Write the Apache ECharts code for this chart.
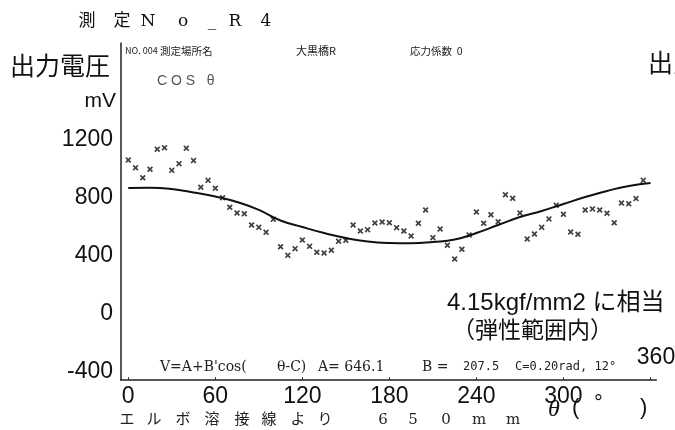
<!DOCTYPE html>
<html>
<head>
<meta charset="utf-8">
<script src="https://cdn.jsdelivr.net/npm/echarts@6/dist/echarts.min.js"></script>
<style>
html,body{margin:0;padding:0;background:#fff;}
#chart{width:675px;height:430px;}
</style>
</head>
<body>
<div id="chart"></div>
<script>
// measured angle (deg)
const thetaDeg = [0,5,10,15,20,25,30,35,40,45,50,55,60,65,70,75,80,85,90,95,
  100,105,110,115,120,125,130,135,140,145,150,155,160,165,170,175,180,185,190,195,
  200,205,210,215,220,225,230,235,240,245,250,255,260,265,270,275,280,285,290,295,
  300,305,310,315,320,325,330,335,340,345,350,355];
// measured output voltage (mV)
const measured = [1018,965,896,954,1092,1103,947,993,1099,1014,
  830,878,823,758,692,653,648,570,554,520,
  609,420,361,407,467,423,382,377,396,458,
  465,570,529,538,584,591,586,552,529,494,
  582,674,483,543,430,336,403,501,660,582,
  641,593,779,754,653,474,508,554,612,706,
  644,522,506,674,681,674,651,586,722,717,
  752,878];
// fitted curve
const curveTheta = [0,15,30,45,60,75,90,105,120,135,150,165,180,195,210,225,240,255,270,285,300,315,330,345,360];
const curveValues = [825,827,818,794,767,729,674,601,556,515,480,456,446,444,453,470,515,570,625,667,715,763,805,839,860];
// tick labels
const xTicks = [0,60,120,180,240,300,360];
const yTicks = [-400,0,400,800,1200];

const titleChars = ['測','定','N','o','_','R','4'];
const titleX = [87,122,148,183,212,235,266];
const bottomChars = ['エ','ル','ボ','溶','接','線','よ','り','6','5','0','m','m'];
const bottomX = [127,154,183,212,242,269,298,325,383,413,446,479,513];

const sans = '"Liberation Sans",Arial,sans-serif';
const jp = '"Noto Sans CJK JP","Noto Sans",sans-serif';
const serif = '"DejaVu Serif","Liberation Serif","Noto Sans CJK JP",serif';

function txt(x, y, text, font, align, color) {
  return {type:'text', x:x, y:y, silent:true,
    style:{text:text, font:font, fill:color||'#111', textAlign:align||'left', align:align||'left',
      textVerticalAlign:'middle', verticalAlign:'middle'}};
}

const graphics = [];
titleChars.forEach((c,i)=>graphics.push(txt(titleX[i], 22, c, '17px ' + serif, 'center')));
bottomChars.forEach((c,i)=>graphics.push(txt(bottomX[i], 420, c, '15px ' + serif, 'center', '#222')));
graphics.push(txt(10, 65, '出力電圧', '25px ' + jp, 'left'));
graphics.push(txt(116, 101, 'mV', '21px ' + sans, 'right'));
graphics.push(txt(125, 51, 'NO. 004', '9px ' + jp, 'left', '#222'));
graphics.push(txt(160, 51, '測定場所名', '10.5px ' + jp, 'left', '#222'));
graphics.push(txt(296, 51, '大黒橋R', '11px ' + jp, 'left', '#222'));
graphics.push(txt(410, 51, '応力係数  0', '10.5px ' + jp, 'left', '#222'));
graphics.push(txt(157, 81, 'C O S   θ', '14px ' + sans, 'left', '#555'));
graphics.push(txt(160, 367, "V=A+B'cos(", '14px ' + serif, 'left', '#222'));
graphics.push(txt(277, 367, 'θ-C)', '14px ' + serif, 'left', '#222'));
graphics.push(txt(318, 367, 'A= 646.1', '14px ' + serif, 'left', '#222'));
graphics.push(txt(422, 367, 'B =', '14px ' + serif, 'left', '#222'));
graphics.push(txt(463, 367, '207.5', '12px "DejaVu Sans Mono",monospace', 'left', '#222'));
graphics.push(txt(515, 367, 'C=0.20rad, 12°', '12px "DejaVu Sans Mono",monospace', 'left', '#222'));
graphics.push(txt(447, 303, '4.15kgf/mm2 に相当', '24px ' + sans.replace('sans-serif','"Noto Sans CJK JP",sans-serif'), 'left'));
graphics.push(txt(452, 329, '（弾性範囲内）', '23px ' + jp, 'left'));
graphics.push(txt(648, 62, '出力', '25px ' + jp, 'left'));
graphics.push(txt(548, 410, 'θ', 'italic 24px "Liberation Serif",serif', 'left'));
graphics.push(txt(572, 408, '(', '22px ' + sans, 'left'));
graphics.push(txt(594, 404, '°', '22px ' + sans, 'left'));
graphics.push(txt(640, 408, ')', '22px ' + sans, 'left'));
graphics.push(txt(656, 358, String(xTicks[xTicks.length-1]), '23px ' + sans, 'center'));

const option = {
  animation:false,
  backgroundColor:'#ffffff',
  grid:{left:121, top:43, width:535.3, height:337.2},
  xAxis:{
    type:'value', min:-5, max:364,
    axisLine:{show:true, onZero:false, lineStyle:{color:'#222', width:1.5}},
    axisTick:{show:true, inside:true, length:3, lineStyle:{color:'#333'}, customValues:xTicks},
    axisLabel:{show:true, customValues:xTicks, margin:5, fontSize:23, fontFamily:sans, color:'#111',
      formatter:function(v){ return v === xTicks[xTicks.length-1] ? '' : String(v); }},
    splitLine:{show:false}
  },
  yAxis:{
    type:'value', min:-500, max:1825,
    axisLine:{show:true, onZero:false, lineStyle:{color:'#222', width:1.5}},
    axisTick:{show:false},
    axisLabel:{show:true, customValues:yTicks, margin:8, fontSize:23, fontFamily:sans, color:'#111',
      verticalAlign:'top', lineHeight:12, formatter:function(v){ return String(v); }},
    splitLine:{show:false}
  },
  graphic:graphics,
  series:[
    {type:'line', data:curveTheta.map((t,i)=>[t,curveValues[i]]), smooth:true, showSymbol:false,
      lineStyle:{color:'#111', width:2}, z:2},
    {type:'scatter', data:thetaDeg.map((t,i)=>[t,measured[i]]),
      symbol:'path://M0,2L2,0L5,3L8,0L10,2L7,5L10,8L8,10L5,7L2,10L0,8L3,5Z',
      symbolSize:6, itemStyle:{color:'#111'}, z:3}
  ]
};
const chart = echarts.init(document.getElementById('chart'), null, {renderer:'canvas'});
chart.setOption(option);
</script>
</body>
</html>
